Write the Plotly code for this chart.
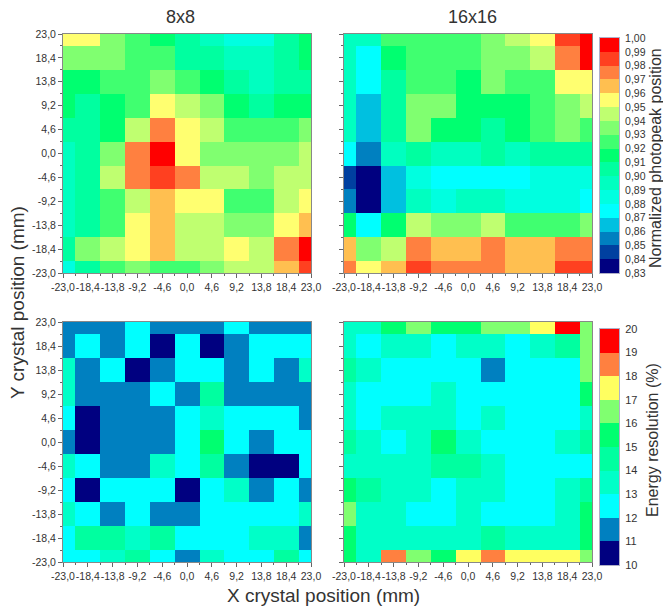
import plotly.graph_objects as go

W, H = 663, 608
positions = [-23.0, -18.4, -13.8, -9.2, -4.6, 0.0, 4.6, 9.2, 13.8, 18.4, 23.0]
tick_labels = ["-23,0", "-18,4", "-13,8", "-9,2", "-4,6", "0,0", "4,6", "9,2", "13,8", "18,4", "23,0"]

# rows listed from y = 23 (top) to y = -23 (bottom)
peak_8x8 = [
    [.955, .955, .935, .925, .915, .905, .895, .885, .885, .905, .915],
    [.935, .935, .935, .925, .925, .905, .905, .895, .895, .905, .915],
    [.915, .915, .925, .925, .935, .925, .915, .905, .895, .905, .905],
    [.915, .905, .915, .925, .955, .945, .935, .915, .905, .915, .915],
    [.905, .905, .915, .945, .975, .955, .945, .925, .925, .925, .935],
    [.895, .905, .935, .975, .995, .955, .935, .935, .935, .935, .945],
    [.895, .905, .945, .975, .985, .975, .945, .945, .935, .945, .945],
    [.895, .905, .925, .945, .965, .955, .955, .925, .925, .945, .955],
    [.895, .905, .925, .955, .965, .945, .945, .935, .935, .955, .965],
    [.905, .935, .945, .955, .965, .945, .945, .955, .945, .975, .995],
    [.885, .905, .925, .935, .925, .925, .935, .945, .945, .965, .985],
]
peak_16x16 = [
    [.895, .895, .925, .925, .925, .925, .935, .945, .955, .985, .995],
    [.895, .875, .915, .925, .925, .925, .935, .935, .945, .975, .995],
    [.895, .875, .905, .925, .925, .915, .935, .925, .925, .955, .955],
    [.895, .865, .905, .935, .935, .915, .915, .915, .925, .935, .945],
    [.895, .865, .905, .935, .915, .915, .905, .915, .925, .935, .925],
    [.875, .855, .895, .905, .895, .895, .905, .895, .905, .905, .905],
    [.845, .835, .865, .885, .875, .875, .875, .875, .885, .885, .885],
    [.855, .835, .865, .895, .885, .895, .895, .885, .885, .885, .875],
    [.915, .875, .915, .945, .935, .935, .945, .925, .925, .925, .935],
    [.965, .935, .945, .975, .965, .965, .975, .965, .965, .975, .975],
    [.975, .955, .965, .985, .975, .975, .975, .965, .965, .985, .985],
]
res_8x8 = [
    [11.5, 11.5, 11.5, 12.5, 11.5, 11.5, 11.5, 12.5, 11.5, 11.5, 11.5],
    [11.5, 12.5, 11.5, 12.5, 10.5, 12.5, 10.5, 11.5, 12.5, 12.5, 12.5],
    [13.5, 11.5, 12.5, 10.5, 11.5, 12.5, 12.5, 11.5, 12.5, 11.5, 13.5],
    [13.5, 11.5, 11.5, 11.5, 12.5, 11.5, 14.5, 11.5, 11.5, 11.5, 11.5],
    [12.5, 10.5, 11.5, 11.5, 11.5, 12.5, 13.5, 12.5, 12.5, 12.5, 11.5],
    [11.5, 10.5, 11.5, 11.5, 11.5, 12.5, 15.5, 12.5, 11.5, 12.5, 12.5],
    [13.5, 12.5, 11.5, 11.5, 13.5, 12.5, 14.5, 11.5, 10.5, 10.5, 12.5],
    [12.5, 10.5, 12.5, 12.5, 12.5, 10.5, 12.5, 13.5, 11.5, 12.5, 11.5],
    [13.5, 12.5, 11.5, 12.5, 11.5, 11.5, 12.5, 12.5, 12.5, 12.5, 13.5],
    [12.5, 14.5, 14.5, 13.5, 14.5, 12.5, 12.5, 12.5, 13.5, 13.5, 11.5],
    [12.5, 12.5, 13.5, 14.5, 12.5, 11.5, 13.5, 12.5, 12.5, 14.5, 12.5],
]
res_16x16 = [
    [13.5, 13.5, 15.5, 16.5, 15.5, 15.5, 16.5, 16.5, 17.5, 19.5, 16.5],
    [13.5, 12.5, 13.5, 13.5, 12.5, 13.5, 13.5, 12.5, 13.5, 14.5, 16.5],
    [14.5, 13.5, 12.5, 12.5, 12.5, 12.5, 11.5, 12.5, 12.5, 12.5, 16.5],
    [13.5, 12.5, 12.5, 12.5, 13.5, 12.5, 12.5, 12.5, 12.5, 12.5, 15.5],
    [13.5, 12.5, 13.5, 13.5, 13.5, 12.5, 13.5, 12.5, 12.5, 12.5, 13.5],
    [14.5, 13.5, 12.5, 13.5, 15.5, 13.5, 12.5, 12.5, 12.5, 13.5, 14.5],
    [13.5, 13.5, 13.5, 13.5, 14.5, 14.5, 13.5, 12.5, 12.5, 12.5, 12.5],
    [15.5, 14.5, 13.5, 13.5, 12.5, 13.5, 13.5, 12.5, 12.5, 13.5, 14.5],
    [16.5, 13.5, 13.5, 12.5, 12.5, 13.5, 12.5, 12.5, 12.5, 13.5, 15.5],
    [15.5, 13.5, 13.5, 13.5, 13.5, 13.5, 14.5, 13.5, 13.5, 13.5, 15.5],
    [15.5, 13.5, 18.5, 16.5, 15.5, 17.5, 18.5, 17.5, 17.5, 17.5, 16.5],
]

peak_colors = ["#000080", "#0040A0", "#0080C0", "#00C0E0", "#00FFFF", "#00FFE0", "#00FFC0", "#00FFA0",
               "#00FF70", "#40FF70", "#80FF70", "#BFFF70", "#FFFF70", "#FFBF50", "#FF8040", "#FF4020", "#FF0000"]
peak_ticks = [.83, .84, .85, .86, .87, .88, .89, .90, .91, .92, .93, .94, .95, .96, .97, .98, .99, 1.00]
peak_labels = ["0,83", "0,84", "0,85", "0,86", "0,87", "0,88", "0,89", "0,90", "0,91", "0,92", "0,93",
               "0,94", "0,95", "0,96", "0,97", "0,98", "0,99", "1,00"]
res_colors = ["#000080", "#0080C0", "#00FFFF", "#00FFC8", "#00FFA0", "#00FF70", "#80FF70", "#FFFF60", "#FF8040", "#FF0000"]
res_ticks = [10, 11, 12, 13, 14, 15, 16, 17, 18, 19, 20]
res_labels = ["10", "11", "12", "13", "14", "15", "16", "17", "18", "19", "20"]


def stepped(colors):
    n = len(colors)
    out = []
    for i, c in enumerate(colors):
        out += [[i / n, c], [(i + 1) / n, c]]
    return out


TEXT = "#333333"
FONT = "Liberation Sans"
LEFT = (63, 311)
RIGHT = (344, 592)
TOP = (34, 273)
BOTTOM = (322, 562)
BAR_X = (600, 619)
BAR_TOP = (38, 273)
BAR_BOTTOM = (329, 565)


def fx(x):
    return x / W


def fy(y):
    return 1 - y / H


def dom_x(p):
    return [fx(p[0]), fx(p[1])]


def dom_y(p):
    return [fy(p[1]), fy(p[0])]


fig = go.Figure()
panels = [
    (peak_8x8, LEFT, TOP, "", True, True),
    (peak_16x16, RIGHT, TOP, "2", False, True),
    (res_8x8, LEFT, BOTTOM, "3", True, False),
    (res_16x16, RIGHT, BOTTOM, "4", False, False),
]
layout = {}
for z, px, py, suf, show_y, is_peak in panels:
    ticks = peak_ticks if is_peak else res_ticks
    colors = peak_colors if is_peak else res_colors
    fig.add_trace(go.Heatmap(
        z=z[::-1], x=positions, y=positions,
        xaxis="x" + suf, yaxis="y" + suf,
        colorscale=stepped(colors),
        zmin=ticks[0], zmax=ticks[-1],
        showscale=False,
    ))
    axis_common = dict(
        range=[-23, 23], tickmode="array", tickvals=positions, automargin=False,
        ticks="outside", ticklen=4, tickwidth=1, tickcolor="#666666",
        showline=True, linecolor="#888888", linewidth=1, mirror=True,
        showgrid=False, zeroline=False,
        minor=dict(tick0=-23, dtick=2.3, ticks="outside", ticklen=2, tickcolor="#666666", showgrid=False),
        tickfont=dict(family=FONT, size=10.5, color=TEXT),
    )
    layout["xaxis" + suf] = dict(axis_common, domain=dom_x(px), anchor="y" + suf,
                                 ticktext=tick_labels, tickangle=0)
    layout["yaxis" + suf] = dict(axis_common, domain=dom_y(py), anchor="x" + suf,
                                 ticktext=tick_labels if show_y else [""] * len(positions))

# colour keys: one-column heatmaps on their own axes
keys = [("5", peak_ticks, peak_labels, peak_colors, BAR_TOP, 10.5),
        ("6", res_ticks, res_labels, res_colors, BAR_BOTTOM, 11)]
for suf, ticks, labels, colors, py, size in keys:
    mids = [(a + b) / 2 for a, b in zip(ticks[:-1], ticks[1:])]
    fig.add_trace(go.Heatmap(
        z=[[m] for m in mids], x=[0], y=mids,
        xaxis="x" + suf, yaxis="y" + suf,
        colorscale=stepped(colors), zmin=ticks[0], zmax=ticks[-1], showscale=False,
    ))
    layout["xaxis" + suf] = dict(domain=dom_x(BAR_X), anchor="y" + suf, range=[-0.5, 0.5], automargin=False,
                                 showticklabels=False, ticks="", showgrid=False, zeroline=False,
                                 showline=True, linecolor="#b0b0c8", linewidth=1, mirror=True)
    layout["yaxis" + suf] = dict(domain=dom_y(py), anchor="x" + suf, side="right", automargin=False,
                                 range=[ticks[0], ticks[-1]], tickmode="array", tickvals=ticks, ticktext=labels,
                                 ticks="outside", ticklen=3, tickcolor="rgba(0,0,0,0)",
                                 showgrid=False, zeroline=False,
                                 showline=True, linecolor="#b0b0c8", linewidth=1, mirror=True,
                                 tickfont=dict(family=FONT, size=size, color=TEXT))


def note(text, x, y, size, angle=0):
    fig.add_annotation(text=text, x=fx(x), y=fy(y), xref="paper", yref="paper", showarrow=False,
                       textangle=angle, xanchor="center", yanchor="middle",
                       font=dict(family=FONT, size=size, color=TEXT))


note("8x8", 180, 17, 18)
note("16x16", 472, 17, 18)
note("X crystal position (mm)", 323, 595, 19)
note("Y crystal position (mm)", 17, 303, 19, -90)
note("Normalized photopeak position", 655, 158, 16, -90)
note("Energy resolution (%)", 652, 440, 16, -90)

fig.update_layout(width=W, height=H, margin=dict(l=0, r=0, t=0, b=0), autosize=False,
                  paper_bgcolor="white", plot_bgcolor="white", showlegend=False, **layout)
fig.write_html("out.html", config={"displayModeBar": False},
               post_script="document.body.style.margin='0';")
